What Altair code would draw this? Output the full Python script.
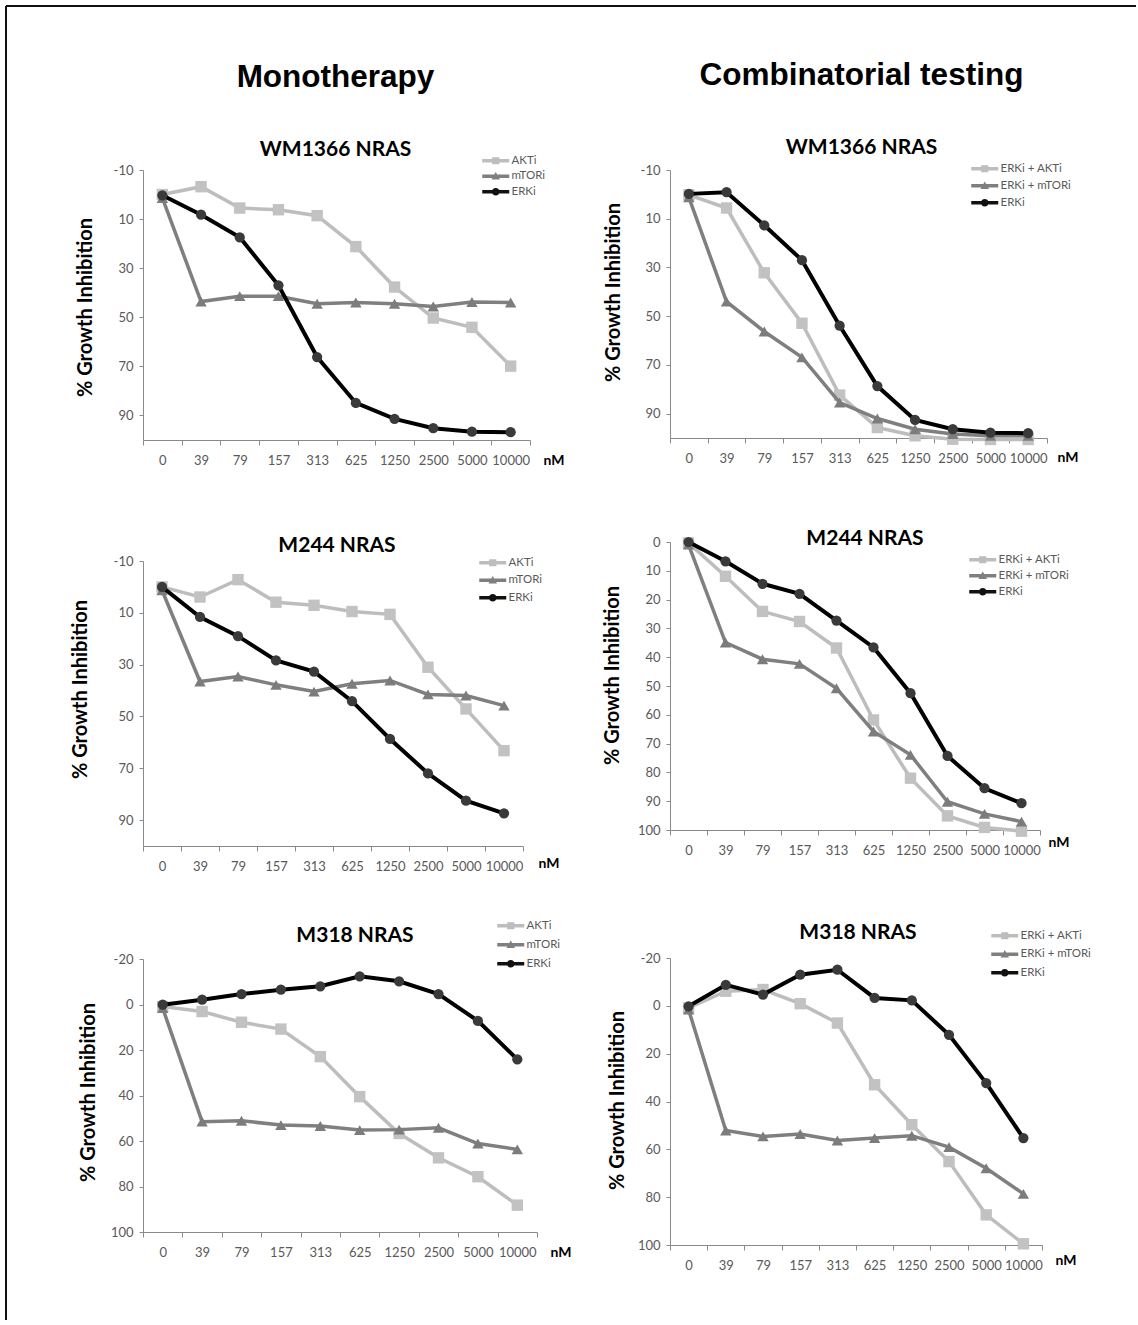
import altair as alt
import pandas as pd

# Drug concentrations (nM) shown as categories on the x axis
conc = ["0", "39", "79", "157", "313", "625", "1250", "2500", "5000", "10000"]

mono_names = ["AKTi", "mTORi", "ERKi"]
combo_names = ["ERKi + AKTi", "ERKi + mTORi", "ERKi"]

# % growth inhibition, WM1366 NRAS
wm1366_mono_akt = [0.0, -3.2, 5.5, 6.2, 8.6, 21.2, 37.7, 50.3, 54.1, 69.9]
wm1366_mono_mtor = [1.4, 43.6, 41.4, 41.4, 44.5, 44.0, 44.5, 45.6, 43.8, 44.0]
wm1366_mono_erk = [0.3, 8.2, 17.4, 37.0, 66.2, 84.9, 91.4, 95.2, 96.6, 96.8]
wm1366_combo_akt = [0.2, 5.6, 32.2, 52.9, 82.4, 95.7, 99.1, 100.5, 100.6, 100.6]
wm1366_combo_mtor = [1.2, 44.0, 56.3, 66.9, 85.5, 92.0, 96.4, 98.4, 99.1, 99.1]
wm1366_combo_erk = [-0.2, -0.9, 12.7, 27.0, 53.9, 78.7, 92.6, 96.4, 97.8, 98.0]

# % growth inhibition, M244 NRAS
m244_mono_akt = [0.0, 3.9, -2.8, 5.9, 7.1, 9.5, 10.6, 31.0, 47.1, 63.2]
m244_mono_mtor = [1.3, 36.5, 34.6, 37.8, 40.4, 37.4, 36.1, 41.5, 41.9, 45.8]
m244_mono_erk = [0.0, 11.6, 19.0, 28.4, 32.7, 44.1, 58.7, 72.0, 82.5, 87.4]
m244_combo_akt = [0.3, 11.9, 24.1, 27.6, 36.8, 61.8, 82.0, 95.1, 99.1, 100.4]
m244_combo_mtor = [0.9, 34.9, 40.7, 42.3, 50.8, 65.8, 73.9, 90.2, 94.4, 97.1]
m244_combo_erk = [0.0, 6.7, 14.5, 18.0, 27.3, 36.6, 52.5, 74.3, 85.5, 90.7]

# % growth inhibition, M318 NRAS
m318_mono_akt = [0.9, 3.1, 7.8, 10.8, 22.9, 40.5, 56.7, 67.4, 75.7, 88.2]
m318_mono_mtor = [1.6, 51.5, 51.1, 53.0, 53.4, 55.2, 55.0, 54.2, 61.1, 63.7]
m318_mono_erk = [0.1, -2.1, -4.6, -6.5, -8.0, -12.4, -10.2, -4.6, 7.2, 24.1]
m318_combo_akt = [0.9, -6.1, -6.8, -0.9, 7.2, 33.0, 49.7, 65.1, 87.4, 99.5]
m318_combo_mtor = [1.6, 52.1, 54.6, 53.6, 56.3, 55.3, 54.3, 59.1, 67.9, 78.6]
m318_combo_erk = [0.2, -8.8, -4.7, -13.0, -15.1, -3.3, -2.3, 12.1, 32.3, 55.3]

# y axis tick values
ticks_a = [-10, 10, 30, 50, 70, 90]
ticks_b = [0, 10, 20, 30, 40, 50, 60, 70, 80, 90, 100]
ticks_c = [-20, 0, 20, 40, 60, 80, 100]

# Line / marker styles: light square, mid triangle, black circle
STYLES = [
    dict(line="#bdbdbd", fill="#c2c2c2", shape="square", size=130, width=3.5),
    dict(line="#7f7f7f", fill="#7c7c7c", shape="triangle-up", size=130, width=3.5),
    dict(line="#000000", fill="#3a3a3a", shape="circle", size=105, width=4),
]

# Legend glyphs: a short line segment with the series marker on it
_seg = "M-3,-0.4 L3,-0.4 L3,0.4 L-3,0.4 Z "
LEGEND_PATHS = [
    _seg + "M-0.8,-0.8 L0.8,-0.8 L0.8,0.8 L-0.8,0.8 Z",
    _seg + "M0,-0.95 L0.95,0.7 L-0.95,0.7 Z",
    _seg + "M0.85,0 A0.85,0.85 0 1,1 -0.85,0 A0.85,0.85 0 1,1 0.85,0 Z",
]
LEGEND_FILLS = ["#bdbdbd", "#7f7f7f", "#111111"]

LABEL_FONT = "Lato"


def panel(series_names, series_values, domain, yticks, w, h, lay, title):
    rows = []
    for name, vals in zip(series_names, series_values):
        for c, v in zip(conc, vals):
            rows.append({"conc": c, "value": v, "series": name})
    df = pd.DataFrame(rows)

    x = alt.X(
        "conc:N",
        sort=conc,
        bandPosition=0.5,
        scale=alt.Scale(type="band", paddingInner=0, paddingOuter=0),
        axis=alt.Axis(
            title="nM",
            tickBand="extent",
            labelAngle=0,
            tickSize=5,
            labelPadding=9,
            titleFont=LABEL_FONT,
            titleFontSize=14,
            titleFontWeight="bold",
            titleColor="black",
            titleAlign="left",
            titleBaseline="middle",
            titleX=lay["nmx"],
            titleY=lay["nmy"],
        ),
    )
    y = alt.Y(
        "value:Q",
        scale=alt.Scale(domain=domain, reverse=True, nice=False, zero=False),
        axis=alt.Axis(
            title="% Growth Inhibition",
            values=yticks,
            labelExpr="toString(datum.value)",
            tickSize=4,
            labelPadding=6,
            titleFont=LABEL_FONT,
            titleFontSize=20,
            titleFontWeight="bold",
            titleColor="black",
            titleAngle=270,
            titleAlign="center",
            titleBaseline="middle",
            titleX=lay["ytx"],
            titleY=lay["yty"],
        ),
    )

    base = alt.Chart(df)
    layers = []
    for k, name in enumerate(series_names):
        st = STYLES[k]
        sub = base.transform_filter(alt.datum.series == name)
        layers.append(
            sub.mark_line(color=st["line"], strokeWidth=st["width"]).encode(x=x, y=y)
        )
        layers.append(
            sub.mark_point(
                filled=True, shape=st["shape"], size=st["size"], color=st["fill"], opacity=1
            ).encode(x=x, y=y)
        )

    legend = alt.Legend(
        orient="none",
        legendX=lay["lx"],
        legendY=lay["ly"],
        title=None,
        padding=0,
        labelFont=LABEL_FONT,
        labelFontSize=11.5,
        labelColor="#595959",
        labelOffset=10,
        rowPadding=lay["rp"],
        symbolSize=81,
        symbolStrokeWidth=0,
        symbolOpacity=1,
    )
    key = base.mark_point(filled=True, opacity=0, size=81).encode(
        x=x,
        y=y,
        color=alt.Color(
            "series:N",
            sort=series_names,
            scale=alt.Scale(domain=series_names, range=LEGEND_FILLS),
            legend=legend,
        ),
        shape=alt.Shape(
            "series:N",
            sort=series_names,
            scale=alt.Scale(domain=series_names, range=LEGEND_PATHS),
            legend=legend,
        ),
    )
    layers.append(key)
    return alt.layer(*layers).properties(width=w, height=h, title=title)


def title_plain(text, dx, offset):
    return alt.TitleParams(
        text=text, font=LABEL_FONT, fontSize=21, fontWeight="bold", color="black",
        frame="group", anchor="middle", dx=dx, offset=offset,
    )


def title_header(header, text, dx, offset, pad):
    return alt.TitleParams(
        text=header, font="Liberation Sans", fontSize=31.5, fontWeight="bold", color="black",
        subtitle=text, subtitleFont=LABEL_FONT, subtitleFontSize=21,
        subtitleFontWeight="bold", subtitleColor="black", subtitlePadding=pad,
        frame="group", anchor="middle", dx=dx, offset=offset,
    )


p1 = panel(
    mono_names, [wm1366_mono_akt, wm1366_mono_mtor, wm1366_mono_erk],
    [-10, 100], ticks_a, 387, 270,
    dict(nmx=400, nmy=20, ytx=-58, yty=137, lx=347, ly=-15, rp=2.5),
    title_header("Monotherapy", "WM1366  NRAS", -1, -5, 46),
)
p2 = panel(
    combo_names, [wm1366_combo_akt, wm1366_combo_mtor, wm1366_combo_erk],
    [-10, 100], ticks_a, 377, 268,
    dict(nmx=387, nmy=19, ytx=-57, yty=122, lx=309, ly=-7, rp=4),
    title_header("Combinatorial testing", "WM1366  NRAS", 3, 5, 46),
)
p3 = panel(
    mono_names, [m244_mono_akt, m244_mono_mtor, m244_mono_erk],
    [-10, 100], ticks_a, 380, 285,
    dict(nmx=395, nmy=17, ytx=-63, yty=128, lx=344, ly=-4, rp=4.5),
    title_plain("M244  NRAS", 4, -0.5),
)
p4 = panel(
    combo_names, [m244_combo_akt, m244_combo_mtor, m244_combo_erk],
    [0, 100], ticks_b, 370, 288,
    dict(nmx=378, nmy=12, ytx=-58, yty=133, lx=307, ly=12, rp=3),
    title_plain("M244  NRAS", 10, -14.5),
)
p5 = panel(
    mono_names, [m318_mono_akt, m318_mono_mtor, m318_mono_erk],
    [-20, 100], ticks_c, 394, 273,
    dict(nmx=407, nmy=20, ytx=-55, yty=133, lx=362, ly=-39, rp=6),
    title_plain("M318  NRAS", 15, -26),
)
p6 = panel(
    combo_names, [m318_combo_akt, m318_combo_mtor, m318_combo_erk],
    [-20, 100], ticks_c, 372, 287,
    dict(nmx=385, nmy=15, ytx=-53, yty=142, lx=329, ly=-28, rp=5.5),
    title_plain("M318  NRAS", 2, -13),
)


def spacer(h, frame=False):
    gap = alt.Chart(pd.DataFrame({"gap": [0]})).mark_point(opacity=0).encode(
        x=alt.value(0), y=alt.value(0)
    )
    if frame:
        # Figure frame (top and left edges), placed relative to this spacer
        edge = alt.Chart(pd.DataFrame({"edge": [0]}))
        top = edge.mark_rule(color="#111111", strokeWidth=2).encode(
            x=alt.value(-137), x2=alt.value(993), y=alt.value(-434)
        )
        left = edge.mark_rule(color="#111111", strokeWidth=2).encode(
            x=alt.value(-137), y=alt.value(-434), y2=alt.value(880)
        )
        gap = alt.layer(gap, top, left)
    return gap.properties(width=10, height=h)


def column(*items):
    return alt.vconcat(*items, spacing=0, bounds="flush").resolve_scale(
        color="independent", shape="independent"
    )


left_col = column(p1, spacer(121, frame=True), p3, spacer(113), p5)
right_col = column(p2, spacer(104), p4, spacer(128), p6)

# The nested columns count as zero-width under flush bounds, so the column
# spacing is the full offset between the two columns' plot areas.
chart = (
    alt.hconcat(left_col, right_col, spacing=527, bounds="flush")
    .resolve_scale(color="independent", shape="independent")
    .properties(padding={"left": 5, "top": 5, "right": 0, "bottom": 0}, background="white")
    .configure_view(stroke=None)
    .configure_axis(
        grid=False,
        domainColor="#8a8a8a",
        tickColor="#8a8a8a",
        domainWidth=1,
        tickWidth=1,
        labelColor="#595959",
        labelFont=LABEL_FONT,
        labelFontSize=13,
    )
)

chart.save("out.html", embed_options={"renderer": "svg", "actions": False})
